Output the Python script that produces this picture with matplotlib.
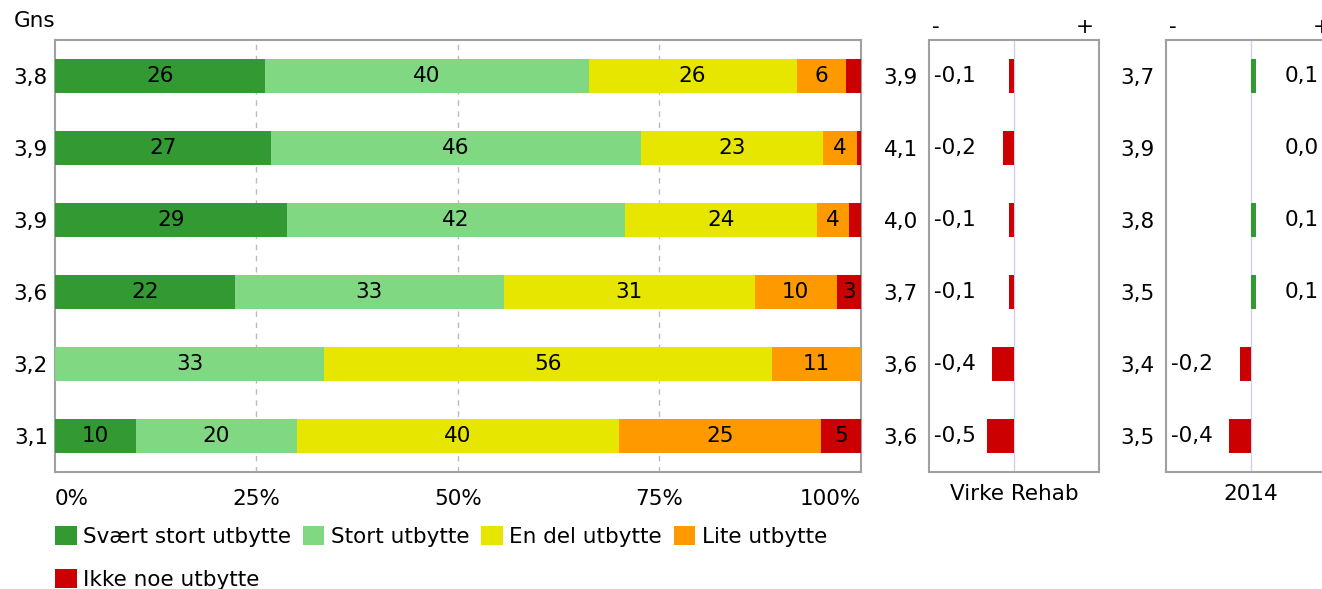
import numpy as np
import matplotlib.pyplot as plt
from matplotlib.patches import Patch

plt.rcParams['font.family'] = 'DejaVu Sans'
plt.rcParams['font.size'] = 15.5

# categories (legend) and colours
categories = ['Svært stort utbytte', 'Stort utbytte', 'En del utbytte',
              'Lite utbytte', 'Ikke noe utbytte']
colors = ['#339933', '#80d982', '#e6e600', '#ff9900', '#cc0000']

# stacked shares per row (top to bottom), percent
shares = np.array([
    [26.0, 40.2, 25.8, 6.1, 1.9],
    [26.8, 45.9, 22.6, 4.2, 0.5],
    [28.8, 41.9, 23.9, 3.9, 1.5],
    [22.3, 33.4, 31.1, 10.2, 3.0],
    [0.0, 33.4, 55.5, 11.1, 0.0],
    [10.0, 20.0, 40.0, 25.0, 5.0],
])
gns = ['3,8', '3,9', '3,9', '3,6', '3,2', '3,1']

# comparison panels
panel_titles = ['Virke Rehab', '2014']
panel_avgs = [['3,9', '4,1', '4,0', '3,7', '3,6', '3,6'],
              ['3,7', '3,9', '3,8', '3,5', '3,4', '3,5']]
panel_diffs = [[-0.1, -0.2, -0.1, -0.1, -0.4, -0.5],
               [0.1, 0.0, 0.1, 0.1, -0.2, -0.4]]

xticks = [0, 25, 50, 75, 100]
xticklabels = ['0%', '25%', '50%', '75%', '100%']

W, H = 1322, 589
fig = plt.figure(figsize=(W / 100, H / 100), dpi=100)

def box(x0, y0, x1, y1):
    return [x0 / W, 1 - y1 / H, (x1 - x0) / W, (y1 - y0) / H]

spine_col = '#a0a0a0'
bar_h = 0.46
n = len(gns)
y = np.arange(n)

ax = fig.add_axes(box(55, 40, 861, 472))
left = np.zeros(n)
for j, cat in enumerate(categories):
    vals = shares[:, j]
    ax.barh(y, vals, left=left, height=bar_h, color=colors[j], label=cat, zorder=3)
    for i in range(n):
        if vals[i] >= 2.5:
            ax.text(left[i] + vals[i] / 2, y[i], f'{vals[i]:.0f}',
                    ha='center', va='center', color='black', zorder=4)
    left += vals

ax.set_xlim(0, 100)
ax.set_ylim(n - 0.5, -0.5)
ax.set_xticks(xticks)
ax.set_xticklabels(xticklabels)
tl = ax.get_xticklabels()
tl[0].set_ha('left')
tl[-1].set_ha('right')
ax.tick_params(axis='x', length=0, pad=12)
ax.set_yticks(y)
ax.set_yticklabels(gns)
ax.tick_params(axis='y', length=0, pad=5)
for xv in xticks[1:-1]:
    ax.axvline(xv, color='#bbbbbb', linestyle=(0, (4, 4)), linewidth=1, zorder=1)
for s in ax.spines.values():
    s.set_color(spine_col)
    s.set_linewidth(1.5)
fig.text(14 / W, 1 - 21 / H, 'Gns', ha='left', va='center')

# comparison panels
panel_left = [929, 1166]
for k in range(2):
    pa = fig.add_axes(box(panel_left[k], 40, panel_left[k] + 170, 472))
    d = np.array(panel_diffs[k])
    pa.barh(y, d, height=bar_h, color=np.where(d < 0, colors[4], colors[0]), zorder=3)
    pa.axvline(0, color='#d0d0f0', linewidth=1, zorder=1)
    pa.set_xlim(-1.55, 1.55)
    pa.set_ylim(n - 0.5, -0.5)
    pa.set_xticks([])
    pa.set_yticks(y)
    pa.set_yticklabels(panel_avgs[k])
    pa.tick_params(axis='y', length=0, pad=8)
    for i, v in enumerate(d):
        lab = f'{v:.1f}'.replace('.', ',')
        if v < 0:
            pa.text(0.03, y[i], lab, transform=pa.get_yaxis_transform(),
                    ha='left', va='center')
        else:
            pa.text(0.70, y[i], lab, transform=pa.get_yaxis_transform(),
                    ha='left', va='center')
    pa.text(0.5, -0.052, panel_titles[k], transform=pa.transAxes,
            ha='center', va='center')
    pa.text(0.02, 1.03, '-', transform=pa.transAxes, ha='left', va='center')
    pa.text(0.97, 1.03, '+', transform=pa.transAxes, ha='right', va='center')
    for s in pa.spines.values():
        s.set_color(spine_col)
        s.set_linewidth(1.5)

# legend: column-wise fill, so reorder to get 4 on row one and 1 on row two
order = [0, 4, 1, 2, 3]
handles = [Patch(facecolor=colors[i], label=categories[i]) for i in order]
fig.legend(handles=handles, ncol=4, loc='upper left',
           bbox_to_anchor=(55 / W, 1 - 526 / H), frameon=False,
           handlelength=1.0, handleheight=1.0, handletextpad=0.3,
           columnspacing=0.55, labelspacing=1.0, borderaxespad=0, borderpad=0)

fig.savefig('out.png', dpi=100)
